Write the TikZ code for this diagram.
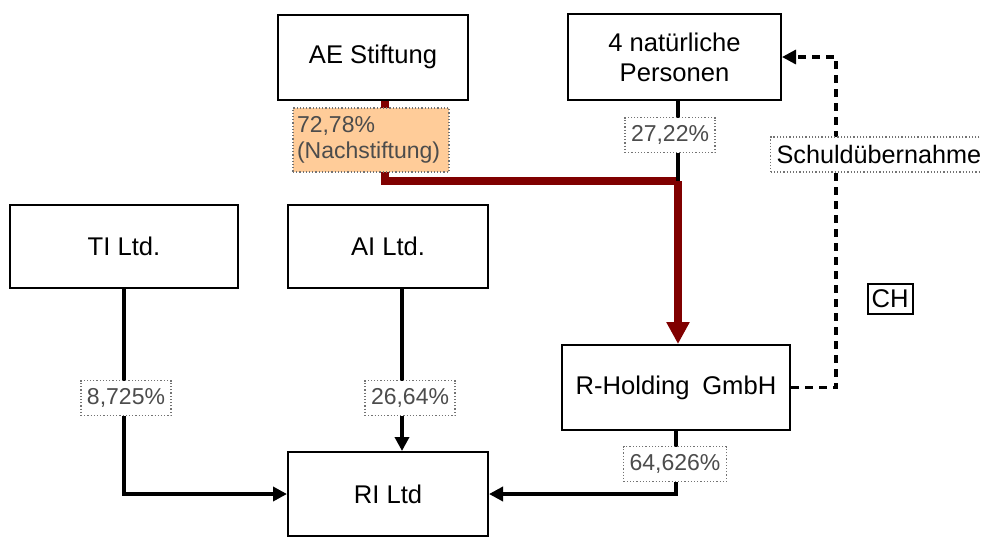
\documentclass[tikz,border=0pt]{standalone}
\usepackage{fontspec}
\setmainfont{Liberation Sans}
\usepackage{xcolor}
\usetikzlibrary{arrows.meta,calc}
\definecolor{ownred}{RGB}{128,0,0}
\definecolor{noteorange}{RGB}{255,204,153}
\tikzset{
  org box/.style={
    rectangle,
    draw=black,
    line width=1pt,
    fill=white,
    align=center,
    font=\fontsize{12.8}{15}\selectfont,
    inner sep=0pt,
  },
  share label/.style={
    rectangle,
    draw=black!55,
    densely dotted,
    line width=0.6pt,
    fill=white,
    text=black!70,
    font=\fontsize{11.5}{13}\selectfont,
    minimum height=17.5pt,
    inner xsep=3pt,
    inner ysep=1pt,
  },
  own line/.style={line width=2.2pt},
  own arrow/.style={-{Triangle[length=7pt,width=7pt]}, line width=2.2pt},
  red line/.style={line width=4pt, draw=ownred},
  red arrow/.style={-{Triangle[length=11pt,width=11pt]}, line width=4pt, draw=ownred},
  debt arrow/.style={-{Triangle[length=7pt,width=7pt]}, line width=1.6pt, dash pattern=on 4pt off 3pt},
}

\begin{document}
\begin{tikzpicture}[x=0.5pt, y=-0.5pt]
  \useasboundingbox (0,0) rectangle (981,538);
  \node[org box, minimum width=95pt, minimum height=42.5pt] (ae) at (373,57) {AE Stiftung};
  \node[org box, minimum width=106.5pt, minimum height=43pt] (pers) at (674.5,57) {4 natürliche\\Personen};
  \node[org box, minimum width=114pt, minimum height=41.5pt] (ti) at (124,246.5) {TI Ltd.};
  \node[org box, minimum width=100pt, minimum height=41.5pt] (ai) at (388,246.5) {AI Ltd.};
  \node[org box, minimum width=114pt, minimum height=42.5pt] (rhold) at (676,387.5) {R-Holding\hspace{0.5em}GmbH};
  \node[org box, minimum width=100pt, minimum height=42pt] (ri) at (388,494) {RI Ltd};
  \node[org box, minimum width=22.5pt, minimum height=15pt] (ch) at (890,299) {CH};

  \coordinate (join) at (678,181);
  \coordinate (debttop) at (836,57);

  \draw[red line] ([xshift=6pt]ae.south) |- (join);
  \draw[red arrow] (join) -- (rhold.north -| join);
  \draw[own line] (pers.south -| join) -- (join);
  \draw[own arrow] (ti.south) |- (ri.west);
  \draw[own arrow] ([xshift=7pt]ai.south) -- ([xshift=7pt]ri.north);
  \draw[own arrow] (rhold.south) |- (ri.east);
  \draw[debt arrow] (rhold.east) -| (debttop) -- (pers.east);

  \node[share label, fill=noteorange, align=left, text width=74pt, minimum height=32pt, inner xsep=2pt] (nach) at (371,140) {72,78\%\\(Nachstiftung)};
  \node[share label] (p2722) at (670,135) {27,22\%};
  \node[share label, text=black, font=\fontsize{12.6}{14}\selectfont, anchor=west] (schuld) at (770,154.5) {Schuldübernahme};
  \node[share label] (p8725) at (126,398) {8,725\%};
  \node[share label] (p2664) at (410,398) {26,64\%};
  \node[share label] (p64626) at (675,464) {64,626\%};
\end{tikzpicture}
\end{document}
